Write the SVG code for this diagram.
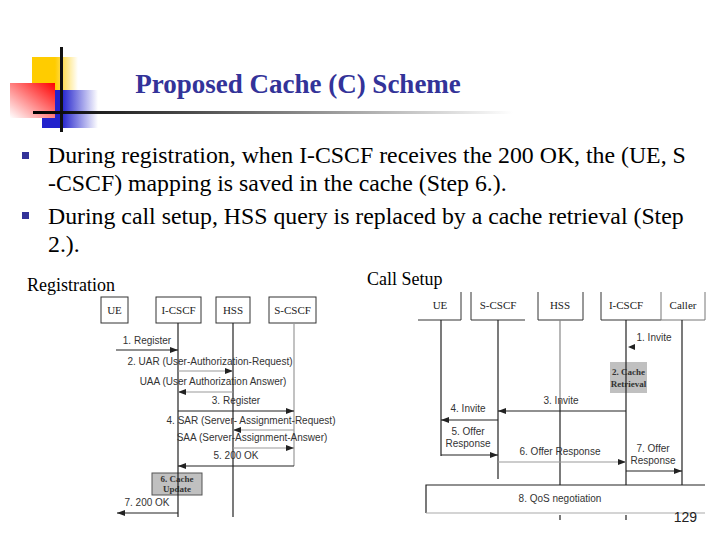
<svg xmlns="http://www.w3.org/2000/svg" width="720" height="540" viewBox="0 0 720 540">
<style>
.title{font-family:"Liberation Serif",serif;font-weight:bold;font-size:27px;fill:#333399}
.body{font-family:"Liberation Serif",serif;font-size:23.8px;fill:#000}
.sub{font-family:"Liberation Serif",serif;font-size:18px;fill:#000}
.box{font-family:"Liberation Serif",serif;font-size:11px;fill:#222}
.lbl{font-family:"Liberation Sans",sans-serif;font-size:10px;fill:#333}
.proc{font-family:"Liberation Serif",serif;font-size:9px;font-weight:bold;fill:#333}
.dk{stroke:#222;stroke-width:1.2;fill:none}
.gy{stroke:#999;stroke-width:1.2;fill:none}
.bx{fill:#fff;stroke:#333;stroke-width:1}
.pb{fill:#c0c0c0;stroke:#555;stroke-width:1}
</style>
<defs>
<marker id="ah" viewBox="0 0 8 6" refX="8" refY="3" markerWidth="8" markerHeight="6" markerUnits="userSpaceOnUse" orient="auto">
<path d="M0,0 L8,3 L0,6 z" fill="#222"/>
</marker>
<linearGradient id="gY" x1="0" x2="1" y1="0" y2="0"><stop offset="0.5" stop-color="#ffcc00"/><stop offset="1" stop-color="#ffffff"/></linearGradient>
<linearGradient id="gR" x1="1" x2="0" y1="0" y2="1"><stop offset="0" stop-color="#ff0000"/><stop offset="1" stop-color="#ffffff"/></linearGradient>
<linearGradient id="gB" x1="0" x2="1" y1="0" y2="0"><stop offset="0.35" stop-color="#2222cc"/><stop offset="1" stop-color="#ffffff"/></linearGradient>
<linearGradient id="gL" x1="0" x2="1" y1="0" y2="0"><stop offset="0" stop-color="#000"/><stop offset="0.3" stop-color="#444"/><stop offset="1" stop-color="#fff"/></linearGradient>
</defs>
<rect width="720" height="540" fill="#fff"/>
<g id="logo">
<rect x="32" y="57" width="46" height="34" fill="url(#gY)"/>
<rect x="42" y="90" width="56" height="38" fill="url(#gB)"/>
<rect x="10" y="83" width="45" height="35" fill="url(#gR)"/>
<rect x="60" y="47" width="3" height="85" fill="#111"/>
<rect x="33" y="111" width="480" height="3" fill="url(#gL)"/>
</g>
<text class="title" x="298" y="93" text-anchor="middle">Proposed Cache (C) Scheme</text>
<g id="bullets">
<rect x="22" y="152" width="7" height="7" fill="#333399"/>
<rect x="22" y="212" width="7" height="7" fill="#333399"/>
<text class="body" x="48" y="163">During registration, when I-CSCF receives the 200 OK, the (UE, S</text>
<text class="body" x="48" y="191">-CSCF) mapping is saved in the cache (Step 6.).</text>
<text class="body" x="48" y="224">During call setup, HSS query is replaced by a cache retrieval (Step</text>
<text class="body" x="48" y="252">2.).</text>
</g>
<text class="sub" x="27" y="291">Registration</text>
<text class="sub" x="367" y="285">Call Setup</text>

<!-- Registration diagram -->
<g id="reg-UE"><rect class="bx" x="101" y="297" width="27" height="26"/><text class="box" x="114.5" y="314" text-anchor="middle">UE</text></g>
<g id="reg-ICSCF"><rect class="bx" x="156" y="297" width="45" height="26"/><text class="box" x="178.5" y="314" text-anchor="middle">I-CSCF</text></g>
<g id="reg-HSS"><rect class="bx" x="216" y="297" width="34" height="26"/><text class="box" x="233" y="314" text-anchor="middle">HSS</text></g>
<g id="reg-SCSCF"><rect class="bx" x="269" y="297" width="47" height="26"/><text class="box" x="292.5" y="314" text-anchor="middle">S-CSCF</text></g>
<g id="reg-cache"><rect class="pb" x="152" y="473" width="50" height="22"/><text class="proc" x="177" y="482" text-anchor="middle">6. Cache</text><text class="proc" x="177" y="492" text-anchor="middle">Update</text></g>
<g id="reg-connectors">
<line class="dk" x1="178" y1="323" x2="178" y2="517"/>
<line class="dk" x1="233" y1="323" x2="233" y2="517"/>
<line class="gy" x1="294" y1="323" x2="294" y2="466"/>
<line class="dk" x1="116" y1="350" x2="178" y2="350" marker-end="url(#ah)"/>
<line class="gy" x1="178" y1="371" x2="233" y2="371" marker-end="url(#ah)"/>
<line class="gy" x1="233" y1="392" x2="178" y2="392" marker-end="url(#ah)"/>
<line class="dk" x1="178" y1="411" x2="294" y2="411" marker-end="url(#ah)"/>
<line class="gy" x1="294" y1="430" x2="233" y2="430" marker-end="url(#ah)"/>
<line class="gy" x1="233" y1="448" x2="294" y2="448" marker-end="url(#ah)"/>
<line class="dk" x1="294" y1="466" x2="178" y2="466" marker-end="url(#ah)"/>
<line class="dk" x1="178" y1="513" x2="117" y2="513" marker-end="url(#ah)"/>
</g>
<g id="reg-labels">
<text class="lbl" x="147" y="344" text-anchor="middle">1. Register</text>
<text class="lbl" x="210" y="365" text-anchor="middle">2. UAR (User-Authorization-Request)</text>
<text class="lbl" x="213" y="385" text-anchor="middle">UAA (User Authorization Answer)</text>
<text class="lbl" x="236" y="404" text-anchor="middle">3. Register</text>
<text class="lbl" x="251" y="424" text-anchor="middle">4. SAR (Server- Assignment-Request)</text>
<text class="lbl" x="252" y="441" text-anchor="middle">SAA (Server-Assignment-Answer)</text>
<text class="lbl" x="236" y="459" text-anchor="middle">5. 200 OK</text>
<text class="lbl" x="147" y="506" text-anchor="middle">7. 200 OK</text>
</g>

<!-- Call setup diagram -->
<g id="cs-UE"><path d="M418,320 H461 V292" fill="none" stroke="#333" stroke-width="1"/><text class="box" x="440" y="309" text-anchor="middle">UE</text></g>
<g id="cs-SCSCF"><path d="M471,292 V320 H525" fill="none" stroke="#333" stroke-width="1"/><text class="box" x="498" y="309" text-anchor="middle">S-CSCF</text></g>
<g id="cs-HSS"><path d="M538,292 V320 H583 V292" fill="none" stroke="#333" stroke-width="1"/><text class="box" x="560" y="309" text-anchor="middle">HSS</text></g>
<g id="cs-ICSCF"><path d="M601,292 V320 H661" fill="none" stroke="#333" stroke-width="1"/><text class="box" x="626" y="309" text-anchor="middle">I-CSCF</text></g>
<g id="cs-Caller"><path d="M661,292 V320 H705 V292" fill="none" stroke="#777" stroke-width="1"/><text class="box" x="683" y="309" text-anchor="middle">Caller</text></g>
<g id="cs-cache"><rect x="610" y="362" width="37" height="31" fill="#c0c0c0"/><text class="proc" x="628.5" y="375" text-anchor="middle">2. Cache</text><text class="proc" x="628.5" y="387" text-anchor="middle">Retrieval</text></g>
<g id="cs-qos"><path d="M426,513 V485 H705" fill="none" stroke="#222" stroke-width="1.2"/><line x1="426" y1="513" x2="705" y2="513" stroke="#aaa" stroke-width="1.2"/><text class="lbl" x="560" y="502" text-anchor="middle">8. QoS negotiation</text></g>
<g id="cs-connectors">
<line class="dk" x1="441" y1="320" x2="441" y2="456"/>
<line class="dk" x1="498" y1="320" x2="498" y2="479"/>
<line x1="560" y1="320" x2="560" y2="400" stroke="#888" stroke-width="1.2"/>
<line class="dk" x1="560" y1="400" x2="560" y2="485"/>
<line class="dk" x1="626" y1="320" x2="626" y2="485"/>
<line class="dk" x1="682" y1="320" x2="682" y2="485"/>
<line class="dk" x1="560" y1="515" x2="560" y2="520"/>
<line class="dk" x1="626" y1="515" x2="626" y2="520"/>
<path d="M628,347 L635,344 L635,350 z" fill="#222"/>
<line class="dk" x1="626" y1="411" x2="498" y2="411" marker-end="url(#ah)"/>
<line class="dk" x1="498" y1="420" x2="441" y2="420" marker-end="url(#ah)"/>
<line class="dk" x1="441" y1="455" x2="498" y2="455" marker-end="url(#ah)"/>
<line class="gy" x1="498" y1="462" x2="626" y2="462" marker-end="url(#ah)"/>
<line class="dk" x1="626" y1="471" x2="682" y2="471" marker-end="url(#ah)"/>
</g>
<g id="cs-labels">
<text class="lbl" x="654" y="341" text-anchor="middle">1. Invite</text>
<text class="lbl" x="561" y="404" text-anchor="middle">3. Invite</text>
<text class="lbl" x="468" y="412" text-anchor="middle">4. Invite</text>
<text class="lbl" x="468" y="435" text-anchor="middle">5. Offer</text>
<text class="lbl" x="468" y="447" text-anchor="middle">Response</text>
<text class="lbl" x="560" y="455" text-anchor="middle">6. Offer Response</text>
<text class="lbl" x="653" y="452" text-anchor="middle">7. Offer</text>
<text class="lbl" x="653" y="464" text-anchor="middle">Response</text>
</g>
<text x="697" y="522" text-anchor="end" style="font-family:'Liberation Sans',sans-serif;font-size:14px;fill:#222">129</text>
</svg>
